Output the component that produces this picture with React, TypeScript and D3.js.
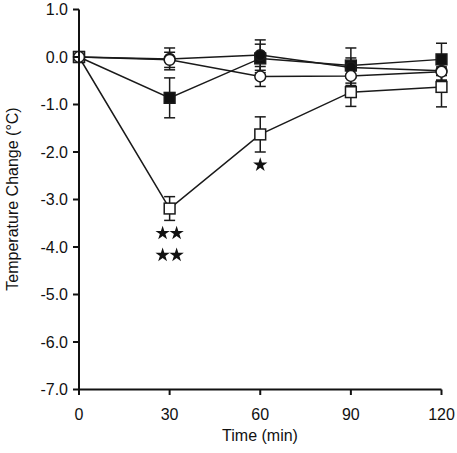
import React from "react";
import * as d3 from "d3";

const times = [0, 30, 60, 90, 120];
const openCircle = [0, -0.06, -0.41, -0.4, -0.31];
const openCircleErr = [0, 0.16, 0.21, 0.2, 0.18];
const filledCircle = [0, -0.04, 0.04, -0.22, -0.29];
const filledCircleErr = [0, 0.23, 0.32, 0.2, 0.2];
const filledSquare = [0, -0.86, -0.03, -0.18, -0.05];
const filledSquareErr = [0, 0.42, 0.3, 0.37, 0.34];
const openSquare = [0, -3.19, -1.63, -0.74, -0.63];
const openSquareErr = [0, 0.25, 0.37, 0.3, 0.42];

const yTicks = [1, 0, -1, -2, -3, -4, -5, -6, -7];
const xTicks = [0, 30, 60, 90, 120];

const starTimes = [30, 30, 30, 30, 60];
const starValues = [-3.71, -3.71, -4.17, -4.17, -2.27];
const starOffsets = [-7, 7, -7, 7, 0];

const W = 457;
const H = 453;

export default function App() {
  const x = d3.scaleLinear().domain([0, 120]).range([79, 441.5]);
  const y = d3.scaleLinear().domain([-7, 1]).range([389.5, 9.5]);
  const line = d3
    .line<number>()
    .x((_, i) => x(times[i]))
    .y((d) => y(d));
  const font = "'Liberation Sans', Arial, sans-serif";

  const series = [
    { vals: openCircle, err: openCircleErr, shape: "circle", fill: "#fff" },
    { vals: openSquare, err: openSquareErr, shape: "square", fill: "#fff" },
    { vals: filledSquare, err: filledSquareErr, shape: "square", fill: "#111" },
    { vals: filledCircle, err: filledCircleErr, shape: "circle", fill: "#111" },
  ];
  const markerOrder = [2, 3, 1, 0];

  const star = d3.symbol().type(d3.symbolStar).size(64)();

  return (
    <svg
      width={W}
      height={H}
      style={{ position: "absolute", left: 0, top: 0, background: "#fff" }}
      fontFamily={font}
    >
      {series.map((s, k) => (
        <path key={"l" + k} d={line(s.vals) || ""} fill="none" stroke="#1a1a1a" strokeWidth={1.5} />
      ))}
      {series.map((s, k) =>
        s.vals.map((v, i) =>
          s.err[i] > 0 ? (
            <g key={"e" + k + "-" + i} stroke="#1a1a1a" strokeWidth={1.5}>
              <line x1={x(times[i])} x2={x(times[i])} y1={y(v + s.err[i])} y2={y(v - s.err[i])} />
              <line x1={x(times[i]) - 5.5} x2={x(times[i]) + 5.5} y1={y(v + s.err[i])} y2={y(v + s.err[i])} />
              <line x1={x(times[i]) - 5.5} x2={x(times[i]) + 5.5} y1={y(v - s.err[i])} y2={y(v - s.err[i])} />
            </g>
          ) : null
        )
      )}
      {markerOrder.map((k) => {
        const s = series[k];
        return s.vals.map((v, i) =>
          s.shape === "circle" ? (
            <circle
              key={"m" + k + "-" + i}
              cx={x(times[i])}
              cy={y(v)}
              r={5.4}
              fill={s.fill}
              stroke="#1a1a1a"
              strokeWidth={1.5}
            />
          ) : (
            <rect
              key={"m" + k + "-" + i}
              x={x(times[i]) - 5.4}
              y={y(v) - 5.4}
              width={10.8}
              height={10.8}
              fill={s.fill}
              stroke="#1a1a1a"
              strokeWidth={1.5}
            />
          )
        );
      })}
      {starTimes.map((t, i) => (
        <path
          key={"s" + i}
          d={star || ""}
          transform={`translate(${x(t) + starOffsets[i]},${y(starValues[i])})`}
          fill="#111"
        />
      ))}
      <line x1={79} x2={79} y1={9.5} y2={389.5} stroke="#111" strokeWidth={2} />
      <line x1={78} x2={441.5} y1={389.5} y2={389.5} stroke="#111" strokeWidth={2} />
      {yTicks.map((t) => (
        <g key={"yt" + t}>
          <line x1={73} x2={79} y1={y(t)} y2={y(t)} stroke="#111" strokeWidth={2} />
          <text x={68} y={y(t)} dy="0.36em" textAnchor="end" fontSize={16} fill="#111">
            {t.toFixed(1).replace("-0.0", "0.0")}
          </text>
        </g>
      ))}
      {xTicks.map((t) => (
        <g key={"xt" + t}>
          <line x1={x(t)} x2={x(t)} y1={389.5} y2={395} stroke="#111" strokeWidth={2} />
          <text x={x(t)} y={419.5} textAnchor="middle" fontSize={16} fill="#111">
            {t}
          </text>
        </g>
      ))}
      <text x={260} y={441} textAnchor="middle" fontSize={16} fill="#111">
        Time (min)
      </text>
      <text
        transform={`translate(18,199) rotate(-90)`}
        textAnchor="middle"
        fontSize={16}
        fill="#111"
      >
        Temperature Change (°C)
      </text>
    </svg>
  );
}
